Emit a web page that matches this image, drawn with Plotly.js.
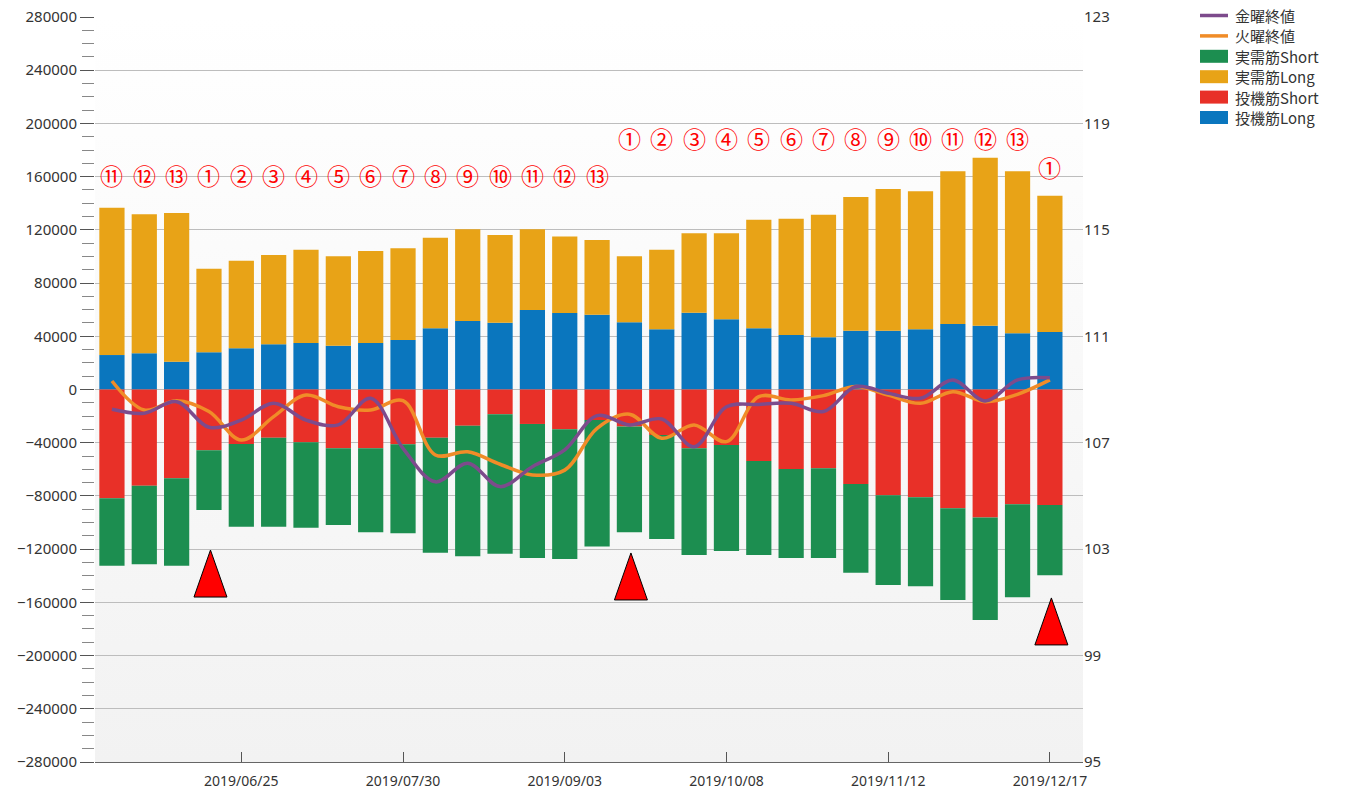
<!DOCTYPE html>
<html>
<head>
<meta charset="utf-8">
<script src="https://cdn.plot.ly/plotly-3.0.1.min.js"></script>
<style>
html,body{margin:0;padding:0;background:#fff;}
#chart{width:1349px;height:796px;}
</style>
</head>
<body>
<div id="chart"></div>
<script>
// ---------- data ----------
var weeks = ['2019-05-28','2019-06-04','2019-06-11','2019-06-18','2019-06-25','2019-07-02','2019-07-09','2019-07-16','2019-07-23','2019-07-30',
             '2019-08-06','2019-08-13','2019-08-20','2019-08-27','2019-09-03','2019-09-10','2019-09-17','2019-09-24','2019-10-01','2019-10-08',
             '2019-10-15','2019-10-22','2019-10-29','2019-11-05','2019-11-12','2019-11-19','2019-11-26','2019-12-03','2019-12-10','2019-12-17'];

var specLong   = [25900,27200,20900,28000,31000,34000,34900,32900,34900,37200,46000,51500,50200,59800,57500,56200,50500,45200,57700,52800,46000,41000,39200,44200,44200,45200,49200,48000,42200,43200];
var commLong   = [110700,104500,111800,62800,65800,67100,70200,67200,69200,68900,68100,68900,65900,60600,57600,56200,49600,59900,59700,64600,81600,87400,92200,100500,106500,103800,114800,126200,121800,102500];
var specShort  = [-81800,-72300,-66800,-45700,-41000,-36200,-39700,-44200,-44200,-41200,-36200,-27200,-18600,-25900,-29900,-23000,-27900,-34200,-44200,-41700,-53700,-59800,-59200,-71000,-79500,-81000,-89300,-96300,-86300,-86800];
var commShort  = [-50600,-59100,-65600,-44900,-62100,-66900,-64200,-57600,-63100,-66900,-86500,-98200,-104800,-100700,-97500,-95100,-79400,-78200,-80200,-79700,-70700,-66800,-67400,-66700,-67400,-66900,-68900,-76900,-69900,-52800];

var friClose   = [108.26,108.11,108.54,107.58,107.85,108.48,107.85,107.67,108.67,106.79,105.53,106.23,105.35,106.10,106.73,108.02,107.67,107.89,106.85,108.35,108.44,108.48,108.17,109.11,108.86,108.67,109.36,108.57,109.36,109.44];
var tueClose   = [109.32,108.23,108.58,108.17,107.10,107.98,108.79,108.35,108.23,108.58,106.54,106.66,106.19,105.79,105.97,107.54,108.07,107.17,107.67,107.04,108.73,108.61,108.77,109.11,108.79,108.48,108.92,108.54,108.82,109.36];

var cycleLabels = ['⑪','⑫','⑬','①','②','③','④','⑤','⑥','⑦','⑧','⑨','⑩','⑪','⑫','⑬',
                   '①','②','③','④','⑤','⑥','⑦','⑧','⑨','⑩','⑪','⑫','⑬','①'];

var signalWeeks  = ['2019-06-18','2019-09-17','2019-12-17'];
var signalLevels = [-156000,-158200,-192000];

var xTickVals  = ['2019-06-25','2019-07-30','2019-09-03','2019-10-08','2019-11-12','2019-12-17'];
var xTickText  = ['2019/06/25','2019/07/30','2019/09/03','2019/10/08','2019/11/12','2019/12/17'];

var names = {fri:'金曜終値', tue:'火曜終値', cs:'実需筋Short', cl:'実需筋Long', ss:'投機筋Short', sl:'投機筋Long'};
var colors = {fri:'#7d4b8c', tue:'#f08c28', cs:'#1c8e50', cl:'#e8a317', ss:'#e83028', sl:'#0a76be'};

// ---------- traces ----------
var traces = [
  {type:'bar', x:weeks, y:specLong,  name:names.sl, marker:{color:colors.sl}, showlegend:false},
  {type:'bar', x:weeks, y:commLong,  name:names.cl, marker:{color:colors.cl}, showlegend:false},
  {type:'bar', x:weeks, y:specShort, name:names.ss, marker:{color:colors.ss}, showlegend:false},
  {type:'bar', x:weeks, y:commShort, name:names.cs, marker:{color:colors.cs}, showlegend:false},
  {type:'scatter', mode:'lines', x:weeks, y:tueClose, yaxis:'y2', name:names.tue, line:{color:colors.tue, width:3.5, shape:'spline', smoothing:1}, showlegend:false},
  {type:'scatter', mode:'lines', x:weeks, y:friClose, yaxis:'y2', name:names.fri, line:{color:colors.fri, width:3.5, shape:'spline', smoothing:1}, showlegend:false}
];

// ---------- layout helpers ----------
var W = 1349, H = 796, ML = 95, MR = 266, MT = 17, MB = 34;
var PW = W - ML - MR, PH = H - MT - MB;
function px2paperX(px){ return (px - ML) / PW; }
function px2paperY(py){ return (H - MB - py) / PH; }

var annotations = [];
var shapes = [];

// cycle number labels
cycleLabels.forEach(function(lbl, i){
  var yv = i < 16 ? 161000 : (i < 29 ? 189000 : 167500);
  annotations.push({x:weeks[i], y:yv, xref:'x', yref:'y', text:lbl, showarrow:false,
    font:{family:'Noto Sans CJK JP', size:23, color:'#ff0000'}, xanchor:'center', yanchor:'middle'});
});

// signal triangles
signalWeeks.forEach(function(d, i){
  shapes.push({type:'path', xref:'x', yref:'y', xsizemode:'pixel', ysizemode:'pixel',
    xanchor:d, yanchor:signalLevels[i], path:'M -15 0 L 18 0 L 1.5 47 Z',
    fillcolor:'#ff0000', line:{color:'#000000', width:1}, layer:'above'});
});

// manual legend
var legendItems = [
  {n:names.fri, c:colors.fri, kind:'line'},
  {n:names.tue, c:colors.tue, kind:'line'},
  {n:names.cs,  c:colors.cs,  kind:'box'},
  {n:names.cl,  c:colors.cl,  kind:'box'},
  {n:names.ss,  c:colors.ss,  kind:'box'},
  {n:names.sl,  c:colors.sl,  kind:'box'}
];
legendItems.forEach(function(it, i){
  var cy = 15.5 + i * 20.4;
  if (it.kind === 'line') {
    shapes.push({type:'line', xref:'paper', yref:'paper', x0:px2paperX(1200), x1:px2paperX(1228),
      y0:px2paperY(cy), y1:px2paperY(cy), line:{color:it.c, width:3.5}});
  } else {
    shapes.push({type:'rect', xref:'paper', yref:'paper', x0:px2paperX(1200), x1:px2paperX(1228),
      y0:px2paperY(cy+6.5), y1:px2paperY(cy-6.5), fillcolor:it.c, line:{width:0}});
  }
  annotations.push({xref:'paper', yref:'paper', x:px2paperX(1233), y:px2paperY(cy), text:it.n, showarrow:false,
    xanchor:'left', yanchor:'middle', font:{family:'Noto Sans CJK JP', size:15, color:'#333333'}});
});

var bgSvg = '<svg xmlns="http://www.w3.org/2000/svg" width="100" height="100" preserveAspectRatio="none">' +
  '<defs><linearGradient id="g" x1="0" y1="0" x2="0" y2="1"><stop offset="0" stop-color="#ffffff"/><stop offset="1" stop-color="#f2f2f2"/></linearGradient></defs>' +
  '<rect width="100" height="100" fill="url(#g)"/></svg>';

var layout = {
  width:W, height:H,
  margin:{l:ML, r:MR, t:MT, b:MB, pad:0},
  paper_bgcolor:'#ffffff',
  plot_bgcolor:'rgba(0,0,0,0)',
  barmode:'relative',
  bargap:0.22,
  showlegend:false,
  font:{family:'Noto Sans, DejaVu Sans, sans-serif', color:'#333333'},
  images:[{source:'data:image/svg+xml;charset=utf-8,' + encodeURIComponent(bgSvg), xref:'paper', yref:'paper',
    x:0, y:1, sizex:1, sizey:1, sizing:'stretch', layer:'below', xanchor:'left', yanchor:'top'}],
  xaxis:{
    type:'date',
    range:['2019-05-24 08:00','2019-12-24 04:00'],
    tickvals:xTickVals, ticktext:xTickText,
    ticks:'inside', ticklen:10, tickcolor:'#555555', tickwidth:1,
    ticklabelstandoff:6,
    showgrid:false, zeroline:false,
    showline:true, linecolor:'#666666', linewidth:1,
    tickfont:{family:'Noto Sans', size:14, color:'#333333'},
    fixedrange:true
  },
  yaxis:{
    range:[-280000,280000],
    tick0:0, dtick:40000,
    ticks:'outside', ticklen:14, tickcolor:'#555555', tickwidth:1,
    minor:{dtick:10000, ticks:'outside', ticklen:12, tickcolor:'#888888', showgrid:false},
    showgrid:true, gridcolor:'#bdbdbd', gridwidth:1,
    zeroline:false,
    showline:false,
    tickformat:'d',
    tickfont:{family:'Noto Sans', size:15, color:'#333333'},
    fixedrange:true
  },
  yaxis2:{
    overlaying:'y', side:'right',
    range:[95,123], tick0:95, dtick:4,
    showgrid:false, zeroline:false, showline:false, ticks:'',
    tickfont:{family:'Noto Sans', size:15, color:'#333333'},
    fixedrange:true
  },
  annotations:annotations,
  shapes:shapes
};

Plotly.newPlot('chart', traces, layout, {displayModeBar:false, staticPlot:true});
</script>
</body>
</html>
